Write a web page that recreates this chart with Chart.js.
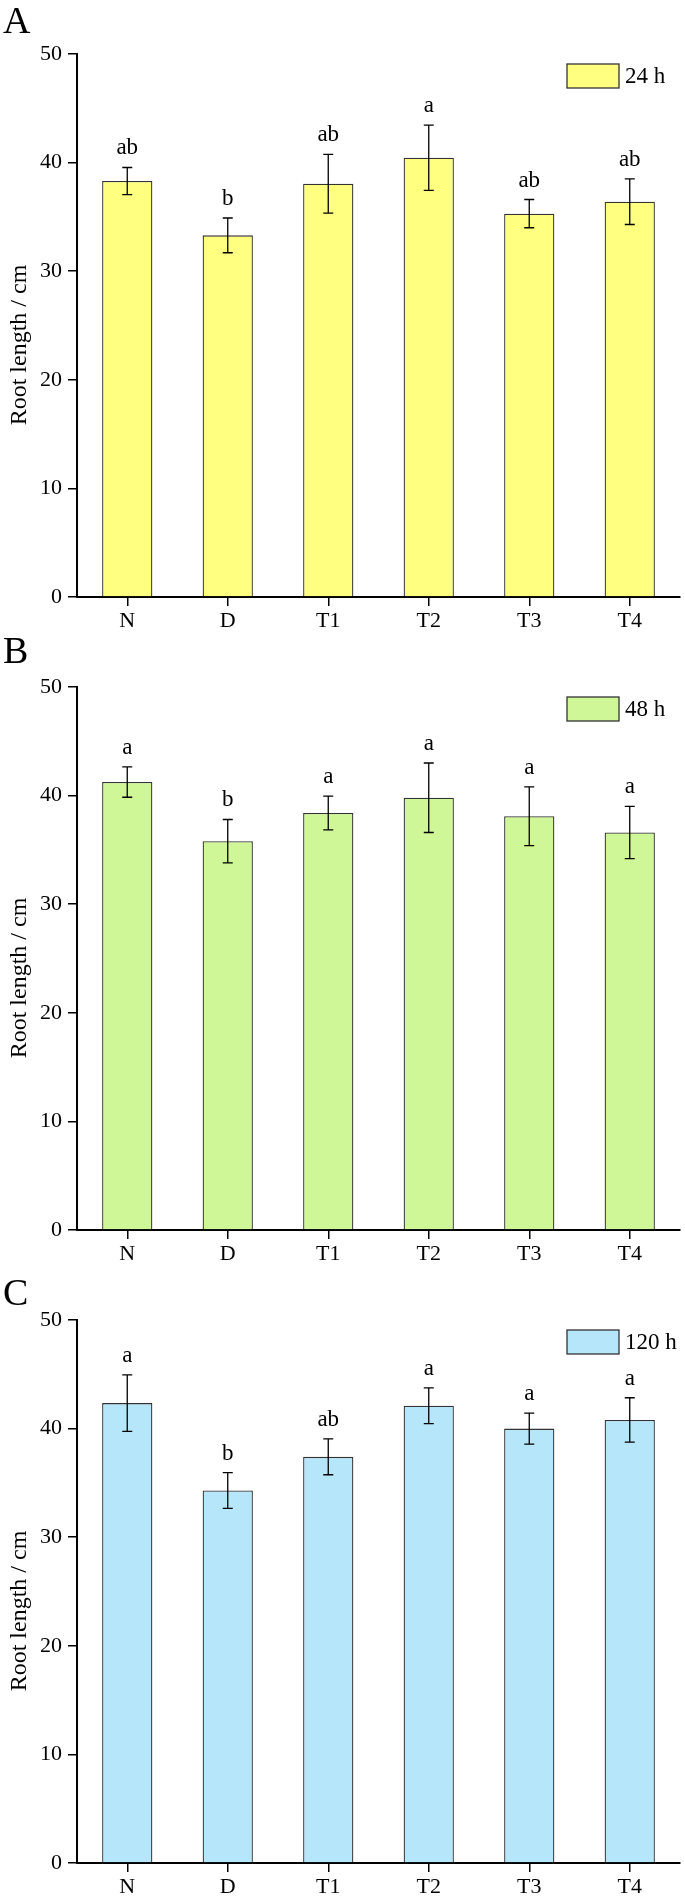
<!DOCTYPE html>
<html>
<head>
<meta charset="utf-8">
<script src="https://cdn.jsdelivr.net/npm/chart.js@4.4.1/dist/chart.umd.min.js"></script>
<style>
  body { margin: 0; background: #fff; }
  canvas { display: block; }
</style>
</head>
<body>
<canvas id="chartA" width="685" height="633"></canvas>
<canvas id="chartB" width="685" height="633"></canvas>
<canvas id="chartC" width="685" height="633"></canvas>
<script>
// categorias y valores
const categories = ["N", "D", "T1", "T2", "T3", "T4"];
const yTicks = [0, 10, 20, 30, 40, 50];

const len24 = [38.3, 33.3, 38.05, 40.45, 35.3, 36.4];
const err24 = [1.25, 1.6, 2.7, 3.0, 1.3, 2.1];
const sig24 = ["ab", "b", "ab", "a", "ab", "ab"];

const len48 = [41.25, 35.8, 38.4, 39.8, 38.1, 36.6];
const err48 = [1.4, 2.0, 1.55, 3.2, 2.7, 2.4];
const sig48 = ["a", "b", "a", "a", "a", "a"];

const len120 = [42.35, 34.3, 37.4, 42.1, 40.0, 40.8];
const err120 = [2.6, 1.65, 1.65, 1.65, 1.43, 2.04];
const sig120 = ["a", "b", "ab", "a", "a", "a"];

const fuente = "'Liberation Serif', 'Times New Roman', serif";

// barras de error + letras de significancia
const errorBars = {
    id: "errorBars",
    afterDatasetsDraw(chart) {
        const ctx = chart.ctx;
        const yScale = chart.scales.y;
        chart.data.datasets.forEach((ds, d) => {
            const meta = chart.getDatasetMeta(d);
            meta.data.forEach((bar, i) => {
                const v = ds.data[i];
                const e = ds.errores[i];
                const yTop = yScale.getPixelForValue(v + e);
                const yBot = yScale.getPixelForValue(v - e);
                ctx.save();
                ctx.strokeStyle = "#000";
                ctx.lineWidth = 1.3;
                ctx.beginPath();
                ctx.moveTo(bar.x, yTop);
                ctx.lineTo(bar.x, yBot);
                ctx.moveTo(bar.x - 5, yTop);
                ctx.lineTo(bar.x + 5, yTop);
                ctx.moveTo(bar.x - 5, yBot);
                ctx.lineTo(bar.x + 5, yBot);
                ctx.stroke();
                ctx.fillStyle = "#000";
                ctx.font = "23px " + fuente;
                ctx.textAlign = "center";
                ctx.textBaseline = "alphabetic";
                ctx.fillText(ds.letras[i], bar.x, yTop - 13);
                ctx.restore();
            });
        });
    }
};

// leyenda dentro del grafico, titulo del eje y letra del panel
const extras = {
    id: "extras",
    afterDraw(chart, args, opts) {
        const ctx = chart.ctx;
        const ds = chart.data.datasets[0];
        ctx.save();
        ctx.fillStyle = ds.backgroundColor;
        ctx.fillRect(567, 64, 52, 24);
        ctx.strokeStyle = "#333";
        ctx.lineWidth = 1.3;
        ctx.strokeRect(567, 64, 52, 24);
        ctx.fillStyle = "#000";
        ctx.font = "23px " + fuente;
        ctx.textAlign = "left";
        ctx.textBaseline = "middle";
        ctx.fillText(ds.label, 625, 77);
        ctx.font = "38px " + fuente;
        ctx.textBaseline = "alphabetic";
        ctx.fillText(opts.panel, 3, opts.panelY);
        // titulo del eje y (un poco mas abajo que el centro, como el original)
        ctx.translate(20, 345);
        ctx.rotate(-Math.PI / 2);
        ctx.font = "24px " + fuente;
        ctx.textAlign = "center";
        ctx.textBaseline = "middle";
        ctx.fillText("Root length / cm", 0, 0);
        ctx.restore();
    }
};

function crearGrafico(id, panel, panelY, label, valores, errores, letras, color) {
    return new Chart(id, {
        type: "bar",
        data: {
            labels: categories,
            datasets: [{
                label: label,
                data: valores,
                errores: errores,
                letras: letras,
                backgroundColor: color,
                borderColor: "#333",
                borderWidth: 1.3,
                categoryPercentage: 1,
                barPercentage: 0.5
            }]
        },
        options: {
            responsive: false,
            animation: false,
            layout: { padding: { top: 54, right: 5, left: 0, bottom: 0 } },
            plugins: {
                legend: { display: false },
                tooltip: { enabled: false },
                extras: { panel: panel, panelY: panelY }
            },
            scales: {
                x: {
                    offset: true,
                    grid: { offset: false, drawOnChartArea: false, tickLength: 9, color: "#000", lineWidth: 1.5 },
                    border: { color: "#000", width: 2 },
                    ticks: { color: "#000", font: { family: fuente, size: 22 }, padding: 2, maxRotation: 0 },
                    afterFit: (s) => { s.height = 36 }
                },
                y: {
                    min: 0,
                    max: 50,
                    afterBuildTicks: (s) => { s.ticks = yTicks.map(v => ({ value: v })) },
                    grid: { drawOnChartArea: false, tickLength: 9, color: "#000", lineWidth: 1.5 },
                    border: { color: "#000", width: 2 },
                    ticks: { color: "#000", font: { family: fuente, size: 22 }, padding: 6 },
                    afterFit: (s) => { s.width = 77 }
                }
            }
        },
        plugins: [errorBars, extras]
    });
}

crearGrafico("chartA", "A", 33, "24 h", len24, err24, sig24, "#FFFF80");
crearGrafico("chartB", "B", 30, "48 h", len48, err48, sig48, "#CFF797");
crearGrafico("chartC", "C", 39, "120 h", len120, err120, sig120, "#B5E6FA");
</script>
</body>
</html>
